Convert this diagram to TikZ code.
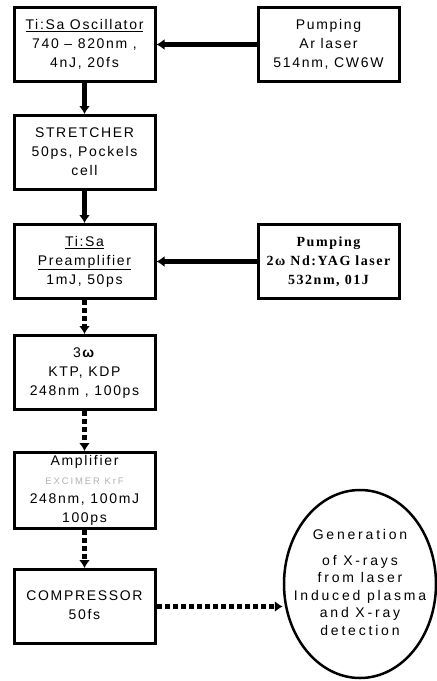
\documentclass[tikz,border=0pt]{standalone}
\usepackage{fontspec}
\setmainfont{Liberation Sans}[LetterSpace=12]
\newfontfamily\pumpserif{Liberation Serif}[LetterSpace=11]
\newfontfamily\widesans{Liberation Sans}[LetterSpace=20]
\usetikzlibrary{arrows.meta,positioning,shapes.geometric}
\tikzset{
    stage/.style={
           rectangle,
           draw=black, line width=3pt,
           minimum width=141pt,
           minimum height=74pt,
           inner sep=0pt,
           text centered,
           font=\fontsize{14}{19}\selectfont,
           },
    beam/.style={line width=4.5pt, -{Latex[length=8pt,width=11pt]}},
    pulse/.style={beam, dash pattern=on 5pt off 3pt},
}

\begin{document}
\begin{tikzpicture}
 \useasboundingbox (0,0) rectangle (437pt,-681pt);

 % laser chain, left column, top to bottom
 \node[stage] (OSC) at (84.5pt,-44.5pt)
 {\begin{tabular}{c}
  \underline{Ti:Sa Oscillator}\\
  740 -- 820nm ,\\
  4nJ, 20fs
 \end{tabular}};

 \node[stage, below of=OSC, node distance=108pt] (STR)
 {\begin{tabular}{c}
  STRETCHER\\
  50ps, Pockels\\
  cell
 \end{tabular}};

 \node[stage, below of=STR, node distance=109pt] (PRE)
 {\begin{tabular}{c}
  \underline{Ti:Sa}\\
  \underline{Preamplifier}\\
  1mJ, 50ps
 \end{tabular}};

 \node[stage, below of=PRE, node distance=111pt] (KTP)
 {\begin{tabular}{c}
  3\textbf{ω}\\
  KTP, KDP\\
  248nm , 100ps
 \end{tabular}};

 \node[stage, below of=KTP, node distance=118pt] (AMP)
 {\begin{tabular}{c}
  Amplifier\\
  {\widesans\fontsize{9.5}{11}\selectfont\color{black!30}EXCIMER KrF}\\
  248nm, 100mJ\\
  100ps
 \end{tabular}};

 \node[stage, below of=AMP, node distance=116pt] (COMP)
 {\begin{tabular}{c}
  COMPRESSOR\\
  50fs
 \end{tabular}};

 % pump lasers, right column
 \node[stage, right of=OSC, node distance=244pt] (PUMPAR)
 {\begin{tabular}{c}
  Pumping\\
  Ar laser\\
  514nm, CW6W
 \end{tabular}};

 \node[stage, right of=PRE, node distance=244pt,
  font=\pumpserif\bfseries\fontsize{14}{19}\selectfont] (PUMPND)
 {\begin{tabular}{@{}c@{}}
  Pumping\\
  2ω Nd:YAG laser\\
  532nm, 01J
 \end{tabular}};

 % target: x-ray generation
 \node[ellipse, draw=black, line width=2.5pt,
  minimum width=152pt, minimum height=188pt,
  inner xsep=-24pt, inner ysep=0pt,
  font=\widesans\fontsize{14}{17.5}\selectfont] (GEN) at (360pt,-584pt)
 {\begin{tabular}{@{}c@{}}
  Generation\\[8pt]
  of X-rays\\
  from laser\\
  Induced plasma\\
  and X-ray\\
  detection
 \end{tabular}};

 % beam paths
 \path[beam]
 (PUMPAR) edge (OSC)
 (OSC)    edge (STR)
 (STR)    edge (PRE)
 (PUMPND) edge (PRE);

 \path[pulse]
 (PRE) edge (KTP)
 (KTP) edge (AMP)
 (AMP) edge (COMP);

 \draw[pulse] (COMP.east) -- (COMP.east -| GEN.west);

\end{tikzpicture}
\end{document}
